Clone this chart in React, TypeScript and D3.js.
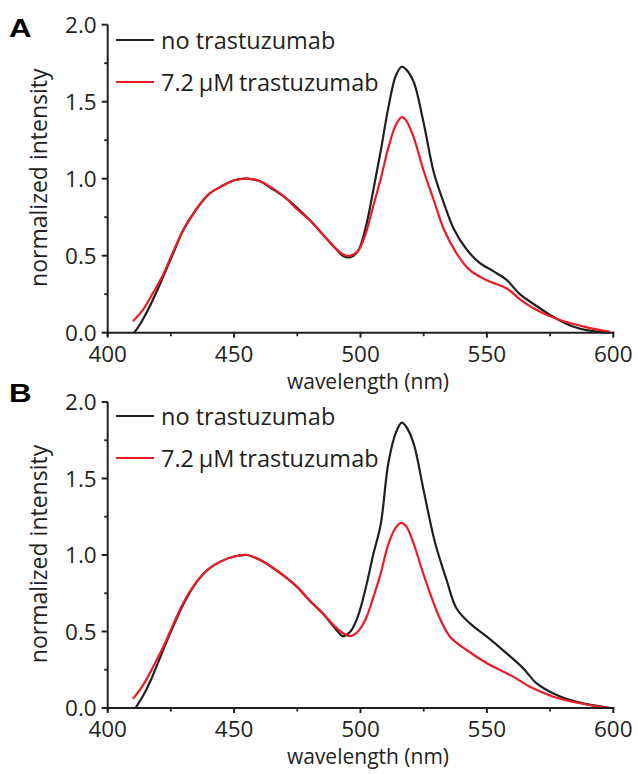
import React, { useEffect, useRef } from "react";
import * as d3 from "d3";

// ---------- Data ----------
const seriesLabels = ["no trastuzumab", "7.2 \u03bcM trastuzumab"];
const seriesColors = ["#231f20", "#ed1c24"];
const xTicks = [400, 450, 500, 550, 600];
const yTicks = [0.0, 0.5, 1.0, 1.5, 2.0];
const xTitle = "wavelength (nm)";
const yTitle = "normalized intensity";
const panelNames = ["A", "B"];

// Panel A
const aBlackWl = [410.5, 413, 416, 420, 425, 430, 435, 440, 445, 450, 455, 460, 465, 470, 475, 480, 485, 490, 493, 496, 499, 502, 505, 508, 511, 514, 516.3, 518, 521, 525, 529, 533, 537, 542, 547, 552.5, 558, 563, 570, 576, 584, 590, 598.7];
const aBlackVal = [0.0, 0.06, 0.15, 0.29, 0.48, 0.67, 0.8, 0.9, 0.95, 0.99, 1.0, 0.985, 0.935, 0.88, 0.81, 0.73, 0.64, 0.55, 0.5, 0.49, 0.53, 0.68, 0.92, 1.18, 1.46, 1.67, 1.727, 1.71, 1.63, 1.36, 1.04, 0.84, 0.67, 0.54, 0.455, 0.4, 0.34, 0.25, 0.17, 0.105, 0.04, 0.015, 0.0];
const aRedWl = [410, 414, 418, 422, 426, 430, 435, 440, 445, 450, 455, 460, 465, 470, 475, 480, 485, 490, 493, 496, 499, 502, 505, 508, 511, 514, 516.3, 518, 521, 525, 529, 533, 538, 543, 550, 558, 564, 571, 579, 589.5, 598.7];
const aRedVal = [0.075, 0.15, 0.26, 0.38, 0.53, 0.67, 0.8, 0.9, 0.95, 0.99, 1.0, 0.985, 0.94, 0.88, 0.8, 0.73, 0.64, 0.55, 0.51, 0.5, 0.53, 0.64, 0.82, 1.0, 1.2, 1.35, 1.4, 1.38, 1.27, 1.05, 0.86, 0.67, 0.515, 0.41, 0.34, 0.285, 0.205, 0.136, 0.082, 0.035, 0.005];

// Panel B
const bBlackWl = [411, 414, 417, 420, 425, 430, 435, 440, 445, 450, 455, 460, 465, 470, 475, 480, 485, 490, 493, 496, 499, 502, 505, 508, 511, 514, 516.3, 518, 521, 525, 529.5, 534, 538, 543.3, 550, 557.8, 564.4, 569.7, 577.6, 586.8, 598.7];
const bBlackVal = [0.0, 0.08, 0.18, 0.3, 0.5, 0.68, 0.82, 0.91, 0.96, 0.99, 1.0, 0.97, 0.92, 0.86, 0.79, 0.7, 0.62, 0.52, 0.47, 0.5, 0.6, 0.78, 1.0, 1.2, 1.6, 1.8, 1.865, 1.84, 1.73, 1.42, 1.08, 0.84, 0.65, 0.553, 0.466, 0.357, 0.259, 0.161, 0.085, 0.035, 0.0];
const bRedWl = [410, 414, 418, 422, 426, 430, 435, 440, 445, 450, 455, 460, 465, 470, 475, 480, 485, 490, 493, 496, 499, 502, 505, 508, 511, 514, 516, 518, 521, 524, 527.5, 531, 535.4, 542, 550, 560.4, 567, 576.3, 586.8, 598.7];
const bRedVal = [0.06, 0.15, 0.27, 0.4, 0.55, 0.69, 0.82, 0.91, 0.96, 0.99, 1.0, 0.97, 0.92, 0.86, 0.79, 0.7, 0.62, 0.53, 0.49, 0.47, 0.5, 0.58, 0.72, 0.88, 1.07, 1.18, 1.21, 1.19, 1.076, 0.92, 0.75, 0.6, 0.466, 0.379, 0.292, 0.205, 0.139, 0.074, 0.031, 0.0];

const panels = [
  { name: panelNames[0], series: [[aBlackWl, aBlackVal], [aRedWl, aRedVal]] },
  { name: panelNames[1], series: [[bBlackWl, bBlackVal], [bRedWl, bRedVal]] },
];

// ---------- Layout ----------
const W = 638;
const H = 774;
const X0 = 107.7;
const X1 = 613.3;
const panelBoxes = [
  { top: 24.7, bottom: 332.7, letterY: 37, legendY: 40 },
  { top: 402, bottom: 708, letterY: 402, legendY: 416 },
];
const INK = "#231f20";
const FONT = "'Open Sans', 'Noto Sans', sans-serif";

export default function App() {
  const ref = useRef<SVGSVGElement | null>(null);

  useEffect(() => {
    const svg = d3.select(ref.current);
    svg.selectAll("*").remove();

    panels.forEach((p, pi) => {
      const box = panelBoxes[pi];
      const x = d3.scaleLinear().domain([400, 600]).range([X0, X1]);
      const y = d3.scaleLinear().domain([0, 2]).range([box.bottom, box.top]);
      const g = svg.append("g");

      // curves
      p.series.forEach(([wl, val], si) => {
        const pts = wl.map((w, i) => [w, val[i]] as [number, number]);
        const line = d3
          .line<[number, number]>()
          .x((d) => x(d[0]))
          .y((d) => y(d[1]))
          .curve(d3.curveCatmullRom.alpha(0.5));
        g.append("path")
          .attr("d", line(pts))
          .attr("fill", "none")
          .attr("stroke", seriesColors[si])
          .attr("stroke-width", 2.2)
          .attr("stroke-linejoin", "round");
      });

      // x axis
      g.append("line")
        .attr("x1", X0 - 1).attr("x2", X1 + 1)
        .attr("y1", box.bottom).attr("y2", box.bottom)
        .attr("stroke", INK).attr("stroke-width", 2);
      // y axis
      g.append("line")
        .attr("x1", X0).attr("x2", X0)
        .attr("y1", box.top).attr("y2", box.bottom + 3)
        .attr("stroke", INK).attr("stroke-width", 2);

      const xMinor = d3.range(425, 600, 50);
      xTicks.forEach((t) => {
        g.append("line")
          .attr("x1", x(t)).attr("x2", x(t))
          .attr("y1", box.bottom - 1).attr("y2", box.bottom + 5)
          .attr("stroke", INK).attr("stroke-width", 2);
        g.append("text")
          .attr("x", x(t)).attr("y", box.bottom + 29)
          .attr("text-anchor", "middle")
          .attr("font-family", FONT).attr("font-size", 22.5)
          .attr("fill", INK)
          .text(String(t));
      });
      xMinor.forEach((t) => {
        g.append("line")
          .attr("x1", x(t)).attr("x2", x(t))
          .attr("y1", box.bottom).attr("y2", box.bottom + 3.5)
          .attr("stroke", INK).attr("stroke-width", 1.8);
      });

      const yMinor = d3.range(0.25, 2, 0.5);
      yTicks.forEach((t) => {
        g.append("line")
          .attr("x1", X0 - 6).attr("x2", X0)
          .attr("y1", y(t)).attr("y2", y(t))
          .attr("stroke", INK).attr("stroke-width", 2);
        g.append("text")
          .attr("x", X0 - 11).attr("y", y(t) + 8)
          .attr("text-anchor", "end")
          .attr("font-family", FONT).attr("font-size", 22.5)
          .attr("fill", INK)
          .text(t.toFixed(1));
      });
      yMinor.forEach((t) => {
        g.append("line")
          .attr("x1", X0 - 3.5).attr("x2", X0)
          .attr("y1", y(t)).attr("y2", y(t))
          .attr("stroke", INK).attr("stroke-width", 1.8);
      });

      // titles
      g.append("text")
        .attr("x", 368).attr("y", box.bottom + 56)
        .attr("text-anchor", "middle")
        .attr("font-family", FONT).attr("font-size", 21)
        .attr("fill", INK)
        .text(xTitle);
      g.append("text")
        .attr("transform", `translate(47, ${(box.top + box.bottom) / 2 - 1}) rotate(-90)`)
        .attr("text-anchor", "middle")
        .attr("font-family", FONT).attr("font-size", 23)
        .attr("fill", INK)
        .text(yTitle);

      // panel letter
      g.append("text")
        .attr("transform", `translate(9, ${box.letterY}) scale(1.25, 1)`)
        .attr("font-family", "'Liberation Sans', Arial, sans-serif")
        .attr("font-weight", "bold").attr("font-size", 25)
        .attr("fill", "#000")
        .text(p.name);

      // legend
      seriesLabels.forEach((lab, si) => {
        const ly = box.legendY + si * 42;
        g.append("line")
          .attr("x1", 116).attr("x2", 154)
          .attr("y1", ly).attr("y2", ly)
          .attr("stroke", seriesColors[si]).attr("stroke-width", 2.2);
        g.append("text")
          .attr("x", 161).attr("y", ly + 8.5)
          .attr("font-family", FONT).attr("font-size", 23.5)
          .attr("word-spacing", si === 1 ? -1.5 : 0)
          .attr("fill", INK)
          .text(lab);
      });
    });
  }, []);

  return (
    <svg
      ref={ref}
      width={W}
      height={H}
      viewBox={`0 0 ${W} ${H}`}
      style={{ position: "absolute", left: 0, top: 0, background: "#fff" }}
    />
  );
}
